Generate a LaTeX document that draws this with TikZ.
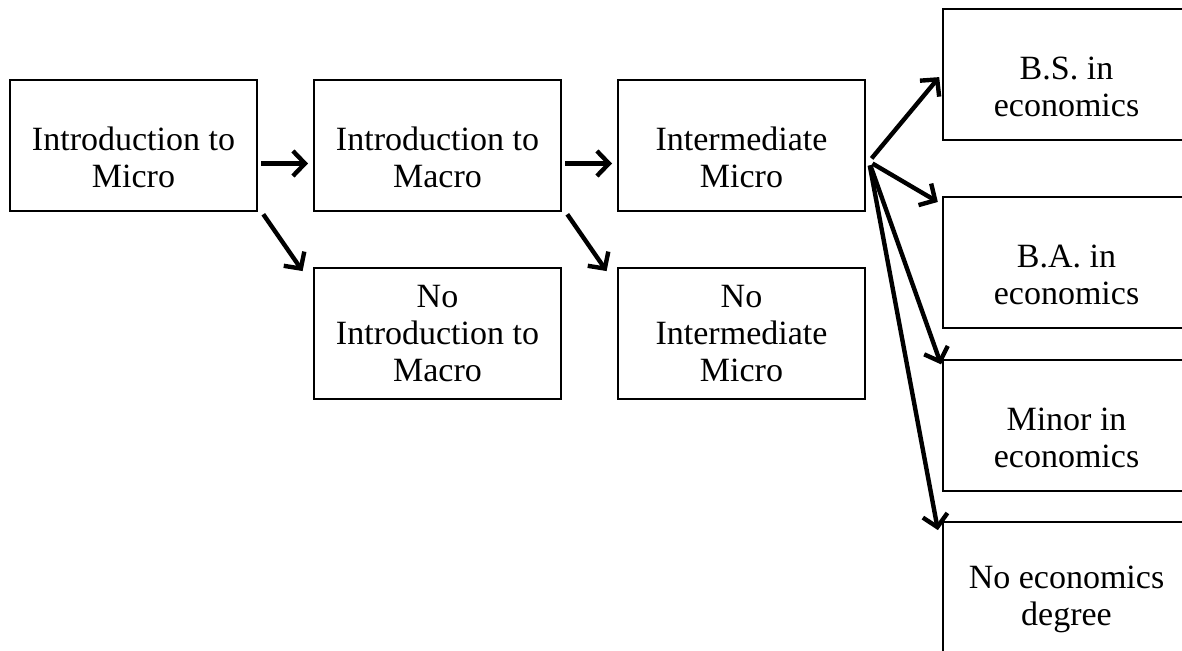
\documentclass[tikz,border=0pt]{standalone}
\usepackage{fontspec}
\setmainfont{Liberation Serif}
\usetikzlibrary{positioning,arrows.meta}
\def\dx{28.5pt}
\def\dy{28.5pt}
\tikzstyle{course}=[draw,rectangle,line width=1pt,outer sep=0pt,inner sep=2pt,
  minimum width=123.5pt,minimum height=65.5pt,align=center,
  font=\fontsize{17}{18.5}\selectfont]
\newcommand{\newCourse}[4]{\node[course,#3](#1)[#4]{#2};}
\newcommand{\newLink}[3]{\path[->] (#1) edge [#3] (#2);}
\def\gapline{\\[4.7pt]}

\begin{document}
\begin{tikzpicture}[x=0.5pt,y=-0.5pt,node distance=\dy and \dx,
    >={Straight Barb[length=6pt,width=12.5pt]},shorten >=3pt,shorten <=2pt,
    line width=2.2pt
    ]
    \clip (0,0) rectangle (1182,651);
    \newCourse{m1}{\gapline Introduction to\\Micro}{}{at={(133.5,145.5)}}
    \newCourse{m2}{\gapline Introduction to\\Macro}{right=of m1}{}
    \newCourse{im}{\gapline Intermediate\\Micro}{right=of m2}{}
    \newCourse{nm2}{No\\Introduction to\\Macro}{below=of m2}{}
    \newCourse{nim}{No\\Intermediate\\Micro}{below=of im}{}
    \newCourse{bs}{\gapline B.S. in\\economics}{}{at={(1066.5,74.5)}}
    \newCourse{ba}{\gapline B.A. in\\economics}{below=of bs}{}
    \newCourse{mi}{\gapline Minor in\\economics}{below=16pt of ba}{}
    \newCourse{ne}{\gapline No economics\\degree}{below=15.5pt of mi}{}
    \coordinate (fan) at ([shift={(2pt,-8pt)}]im.east);
    \newLink{[yshift=-9pt]m1.east}{[yshift=-9pt]m2.west}{}
    \newLink{[yshift=-9pt]m2.east}{[yshift=-9pt]im.west}{}
    \newLink{[xshift=2pt]m1.south east}{[shift={(-4pt,-4pt)}]nm2.north west}{}
    \newLink{[xshift=2pt]m2.south east}{[shift={(-4pt,-4pt)}]nim.north west}{}
    \newLink{fan}{[yshift=1pt]bs.west}{}
    \newLink{fan}{[yshift=-4pt]ba.north west}{}
    \newLink{fan}{[yshift=-5pt]mi.north west}{}
    \newLink{fan}{[shift={(-2pt,-7pt)}]ne.north west}{}
  \end{tikzpicture}
\end{document}
